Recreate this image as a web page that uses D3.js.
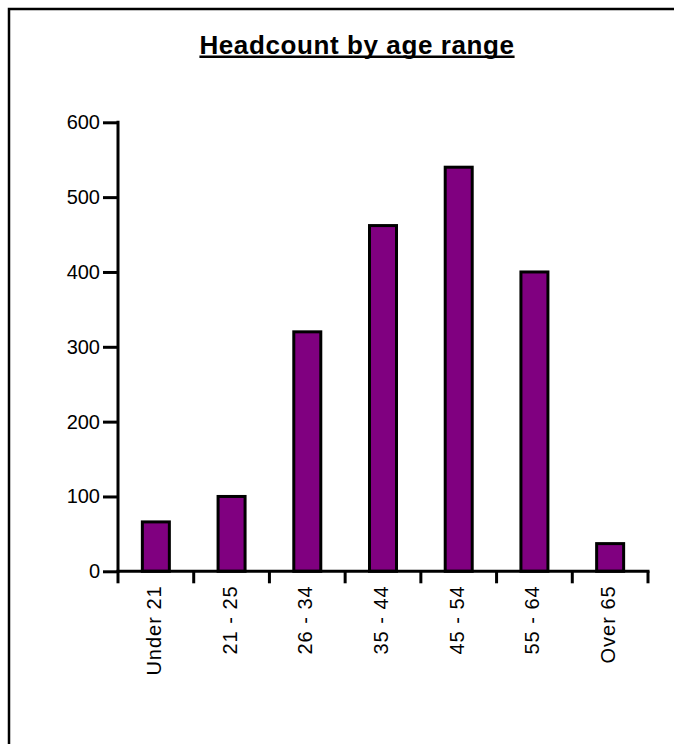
<!DOCTYPE html>
<html>
  <head>
    <meta charset="utf-8">
    <title>Headcount by age range</title>
    <style>
      body { margin: 0; background: #fff; font-family: Arial, 'Liberation Sans', sans-serif; }
      svg { display: block; }
      .title { font-size: 26px; font-weight: bold; letter-spacing: 0.6px; }
      .xlab { font-size: 20px; letter-spacing: 1px; }
    </style>
  </head>
  <body>
    <div class="chart"></div>
    <script src="https://d3js.org/d3.v7.min.js"></script>
    <script>
      // data
      var ageRanges = ['Under 21', '21 - 25', '26 - 34', '35 - 44', '45 - 54', '55 - 64', 'Over 65'];
      var headcount = [66, 100, 320, 462, 540, 400, 37];
      var yTicks = [0, 100, 200, 300, 400, 500, 600];

      var W = 674, H = 744;
      var plotLeft = 118, plotRight = 648, plotTop = 122.3, plotBottom = 571.3;

      var svg = d3.select('.chart').append('svg')
        .attr('width', W)
        .attr('height', H);

      // frame (only top/left visible in the crop)
      svg.append('path')
        .attr('d', 'M9,' + (H + 5) + 'V9H' + (W + 5))
        .attr('fill', 'none')
        .attr('stroke', '#000')
        .attr('stroke-width', 2.5);

      // title, underlined
      var title = svg.append('text')
        .attr('class', 'title')
        .attr('x', 357)
        .attr('y', 53.5)
        .attr('text-anchor', 'middle')
        .text('Headcount by age range');
      var tb = title.node().getBBox();
      svg.append('line')
        .attr('x1', tb.x).attr('x2', tb.x + tb.width)
        .attr('y1', 56.7).attr('y2', 56.7)
        .attr('stroke', '#000')
        .attr('stroke-width', 2.5);

      var x = d3.scaleBand().domain(ageRanges).range([plotLeft, plotRight]).padding(0);
      var y = d3.scaleLinear().domain([0, 600]).range([plotBottom, plotTop]);

      // bars
      var barW = 27;
      svg.append('g').selectAll('rect')
        .data(ageRanges)
        .enter().append('rect')
        .attr('x', function(d) { return x(d) + x.bandwidth() / 2 - barW / 2; })
        .attr('y', function(d, i) { return y(headcount[i]); })
        .attr('width', barW)
        .attr('height', function(d, i) { return y(0) - y(headcount[i]); })
        .attr('fill', '#800080')
        .attr('stroke', '#000')
        .attr('stroke-width', 3);

      // y axis
      var yAxis = d3.axisLeft(y).tickValues(yTicks).tickSize(15).tickPadding(3).tickSizeOuter(0);
      var gY = svg.append('g')
        .attr('transform', 'translate(' + plotLeft + ',0)')
        .call(yAxis);
      gY.select('.domain').remove();
      gY.append('line')
        .attr('x1', 0).attr('x2', 0)
        .attr('y1', plotTop - 1.5).attr('y2', plotBottom + 1.5)
        .attr('stroke', '#000').attr('stroke-width', 3);
      gY.selectAll('.tick line').attr('stroke', '#000').attr('stroke-width', 3);
      gY.selectAll('.tick text')
        .attr('fill', '#000')
        .style('font-family', 'Arial, "Liberation Sans", sans-serif')
        .style('font-size', '20px');

      // x axis
      var gX = svg.append('g')
        .attr('transform', 'translate(0,' + plotBottom + ')');
      gX.append('line')
        .attr('x1', plotLeft - 1.5).attr('x2', plotRight + 1.5)
        .attr('y1', 0).attr('y2', 0)
        .attr('stroke', '#000').attr('stroke-width', 3);
      var bounds = ageRanges.map(function(d) { return x(d); }).concat([plotRight]);
      gX.selectAll('line.tk')
        .data(bounds)
        .enter().append('line')
        .attr('class', 'tk')
        .attr('x1', function(d) { return d; }).attr('x2', function(d) { return d; })
        .attr('y1', 0).attr('y2', 12)
        .attr('stroke', '#000').attr('stroke-width', 3);
      gX.selectAll('text')
        .data(ageRanges)
        .enter().append('text')
        .attr('class', 'xlab')
        .attr('transform', function(d) {
          return 'translate(' + (x(d) + x.bandwidth() / 2 - 2) + ',14) rotate(-90)';
        })
        .attr('dy', '0.35em')
        .attr('text-anchor', 'end')
        .text(function(d) { return d; });
    </script>
  </body>
</html>
